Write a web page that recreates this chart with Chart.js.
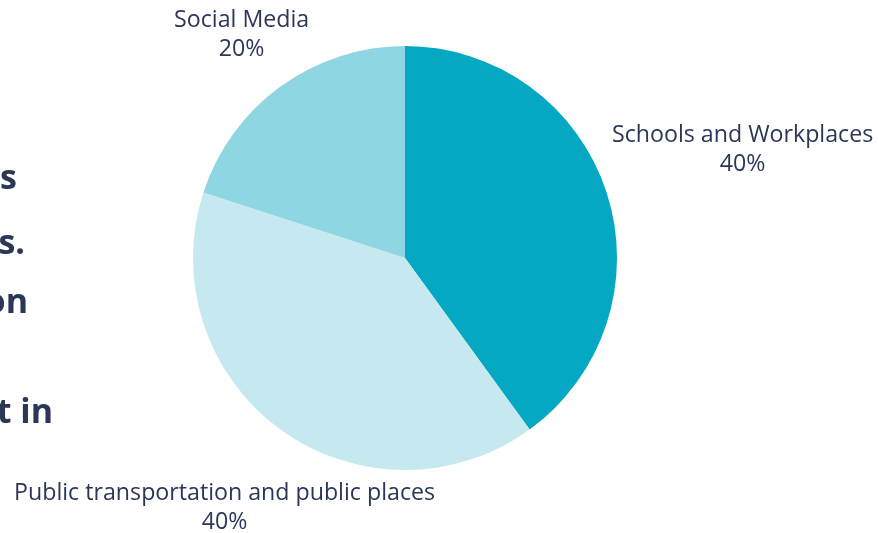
<!DOCTYPE html>
<html>
<head>
<meta charset="utf-8">
<script src="https://cdn.jsdelivr.net/npm/chart.js@4"></script>
<style>
  html, body { margin: 0; padding: 0; background: #ffffff; overflow: hidden; }
  #wrap { position: relative; width: 878px; height: 533px; }
  #c { position: absolute; left: 0; top: 0; }
  .side { position: absolute; font-family: "Open Sans", sans-serif; font-weight: 700; font-size: 34px; line-height: 34px; color: #2a3756; white-space: nowrap; transform: translateX(-100%); }
</style>
</head>
<body>
<div id="wrap">
  <canvas id="c" width="878" height="533"></canvas>
  <div class="side" style="left:17px; top:159px;">s</div>
  <div class="side" style="left:25px; top:224px;">s.</div>
  <div class="side" style="left:28px; top:283px;">on</div>
  <div class="side" style="left:53px; top:393px;">t in</div>
</div>
<script>
const categories = ["Schools and Workplaces", "Public transportation and public places", "Social Media"];
const shares = [40, 40, 20];
const percentLabels = ["40%", "40%", "20%"];
const sliceColors = ["#05a8c3", "#c5e9ef", "#8fd6e3"];

const outsideLabels = {
  id: 'outsideLabels',
  afterDatasetsDraw(chart, args, opts) {
    const ctx = chart.ctx;
    const meta = chart.getDatasetMeta(0);
    ctx.save();
    ctx.fillStyle = opts.color;
    ctx.font = opts.font;
    ctx.textAlign = 'center';
    ctx.textBaseline = 'alphabetic';
    meta.data.forEach((arc, i) => {
      const p = arc.getProps(['x', 'y', 'startAngle', 'endAngle', 'outerRadius'], true);
      const mid = (p.startAngle + p.endAngle) / 2;
      const d = p.outerRadius + opts.distance[i];
      const cx = p.x + Math.cos(mid) * d;
      const cy = p.y + Math.sin(mid) * d;
      ctx.fillText(chart.data.labels[i], cx, cy - opts.lineHeight / 2 + opts.capHeight / 2);
      ctx.fillText(percentLabels[i], cx, cy + opts.lineHeight / 2 + opts.capHeight / 2);
    });
    ctx.restore();
  }
};

new Chart(document.getElementById('c'), {
  type: 'pie',
  data: {
    labels: categories,
    datasets: [{
      data: shares,
      backgroundColor: sliceColors,
      borderWidth: 0
    }]
  },
  options: {
    responsive: false,
    animation: false,
    layout: { padding: { left: 193, right: 261, top: 46, bottom: 63 } },
    plugins: {
      legend: { display: false },
      tooltip: { enabled: false },
      outsideLabels: {
        color: '#2a3756',
        font: '23.2px "Open Sans", sans-serif',
        lineHeight: 29,
        capHeight: 16,
        distance: [143, 95, 66]
      }
    }
  },
  plugins: [outsideLabels]
});
</script>
</body>
</html>
